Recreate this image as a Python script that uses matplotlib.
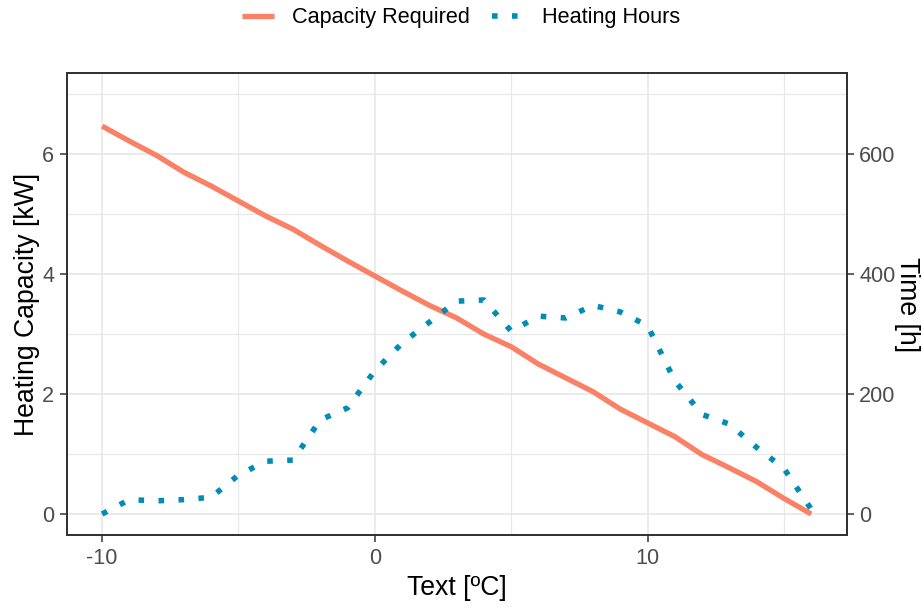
import matplotlib

matplotlib.use("Agg")
import matplotlib.pyplot as plt
from matplotlib.ticker import MultipleLocator

plt.rcParams["font.family"] = ["Liberation Sans", "DejaVu Sans"]
plt.rcParams["axes.unicode_minus"] = False

# outdoor temperature [ºC]
temps = list(range(-10, 17))
capacity_kw = [6.47, 6.22, 5.98, 5.70, 5.47, 5.22, 4.97, 4.75, 4.48, 4.22,
               3.97, 3.72, 3.48, 3.27, 3.00, 2.79, 2.50, 2.27, 2.04, 1.75,
               1.52, 1.29, 0.99, 0.77, 0.54, 0.26, 0.0]
heating_hours = [0, 24, 22, 24, 28, 65, 88, 90, 157, 177,
                 239, 285, 320, 355, 357, 305, 330, 327, 348, 337,
                 314, 222, 166, 150, 111, 76, 8]

cap_color = "#FA8066"
hours_color = "#008DB5"
grid_color = "#E8E8E8"
frame_color = "#333333"
tick_text = "#4D4D4D"

fig = plt.figure(figsize=(9.22, 6.07), dpi=100)
ax = fig.add_axes([0.0723, 0.1186, 0.846, 0.7606])
ax2 = ax.twinx()

# grid (theme_bw style)
ax.set_axisbelow(True)
ax.xaxis.set_major_locator(MultipleLocator(10))
ax.xaxis.set_minor_locator(MultipleLocator(5))
ax.yaxis.set_major_locator(MultipleLocator(2))
ax.yaxis.set_minor_locator(MultipleLocator(1))
ax.grid(True, which="major", color=grid_color, lw=1.2)
ax.grid(True, which="minor", color=grid_color, lw=0.9)

ax.set_xlim(-11.3, 17.3)
ax.set_ylim(-0.35, 7.35)
ax2.set_ylim(-35, 735)
ax2.yaxis.set_major_locator(MultipleLocator(200))

line1, = ax.plot(temps, capacity_kw, color=cap_color, lw=3.8,
                 solid_capstyle="butt", label="Capacity Required")
line2, = ax2.plot(temps, heating_hours, color=hours_color, lw=4.0,
                  linestyle=(0, (1, 2.6)), dash_capstyle="butt",
                  label="Heating Hours")

for a in (ax, ax2):
    for s in a.spines.values():
        s.set_color(frame_color)
        s.set_linewidth(1.4)
    a.tick_params(which="major", length=5, width=1.1, color=frame_color,
                  labelsize=15.6, labelcolor=tick_text, pad=4)
    a.tick_params(which="minor", length=0)

ax.set_xlabel("Text [ºC]", fontsize=19.2, labelpad=5)
ax.set_ylabel("Heating Capacity [kW]", fontsize=19.2, va="center")
ax.yaxis.set_label_coords(-(67 - 27) / 780, 0.5)
ax2.set_ylabel("Time [h]", fontsize=19.2, rotation=-90, va="center", ha="center")
ax2.yaxis.set_label_coords(1 + (907 - 847) / 780, 0.5)

fig.legend(handles=[line1, line2], loc="center", bbox_to_anchor=(0.5, 1 - 18 / 607),
           ncol=2, frameon=False, fontsize=15.6, handlelength=1.5,
           handletextpad=0.8, columnspacing=1.05)

fig.savefig("out.png", dpi=100)
